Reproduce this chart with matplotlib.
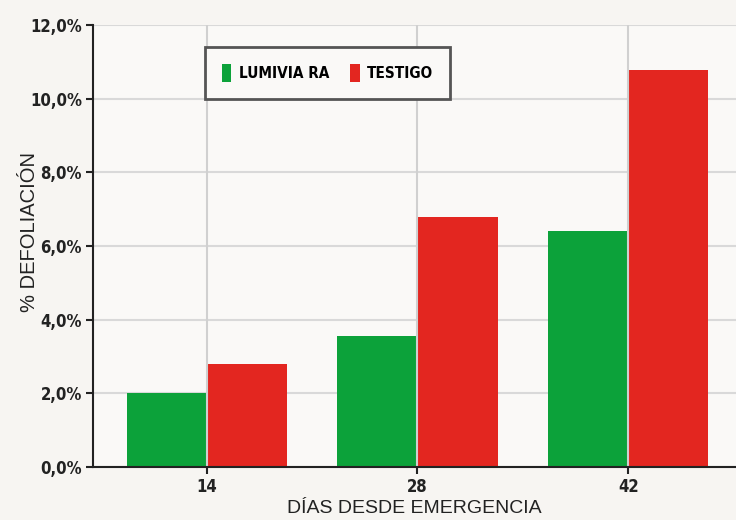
import matplotlib
matplotlib.use("Agg")
import matplotlib.pyplot as plt
import numpy as np

categories = ["14", "28", "42"]
series_names = ["LUMIVIA RA", "TESTIGO"]
lumivia = [2.0, 3.56, 6.41]
testigo = [2.80, 6.79, 10.78]
yticks = [0, 2, 4, 6, 8, 10, 12]
ytick_labels = ["0,0%", "2,0%", "4,0%", "6,0%", "8,0%", "10,0%", "12,0%"]
colors = ["#0ca23a", "#e32620"]

reg = ["Liberation Sans", "DejaVu Sans"]
tick_font = dict(family="DejaVu Sans", weight="bold", stretch="condensed", size=12)
leg_font = dict(family="DejaVu Sans", weight="bold", stretch="condensed", size=11)

fig = plt.figure(figsize=(7.36, 5.2), dpi=100, facecolor="#f7f5f2")
ax = fig.add_axes([93/736, 1-467/520, 1-93/736, (467-25)/520])
ax.set_facecolor("#faf9f7")

x = np.arange(len(categories))
w = 0.38
ax.bar(x - w/2, lumivia, w, color=colors[0], label=series_names[0], zorder=2)
ax.bar(x + w/2, testigo, w, color=colors[1], label=series_names[1], zorder=2)

ax.set_xlim(-114/211, 2 + (736-628)/211)
ax.set_ylim(0, 12)
ax.set_yticks(yticks)
ax.set_yticklabels(ytick_labels, color="#222222", **tick_font)
ax.set_xticks(x)
ax.set_xticklabels(categories, color="#222222", **tick_font)

ax.grid(axis="y", color="#d9d9d9", lw=1.5, zorder=1)
for xi in x:
    ax.axvline(xi, color="#d0d0d0", lw=1.5, zorder=3)

for s in ["top", "right"]:
    ax.spines[s].set_visible(False)
for s in ["left", "bottom"]:
    ax.spines[s].set_color("#222222")
    ax.spines[s].set_linewidth(1.5)
    ax.spines[s].set_zorder(4)
ax.tick_params(axis="both", length=5, width=1.5, color="#222222", pad=3)

ax.set_xlabel("DÍAS DESDE EMERGENCIA", fontfamily=reg, fontsize=14, color="#222222", labelpad=3)
ax.set_ylabel("% DEFOLIACIÓN", fontfamily=reg, fontsize=14.5, color="#222222")
ax.yaxis.set_label_coords(-(93-39)/643, (467-232)/442)

leg = ax.legend(loc="upper left", bbox_to_anchor=(205/736, 1-47/520), bbox_transform=fig.transFigure,
                ncol=2, frameon=True, fancybox=False, borderaxespad=0,
                handlelength=0.6, handleheight=1.5, handletextpad=0.5, columnspacing=1.4,
                borderpad=1.1, prop=leg_font)
leg.get_frame().set_edgecolor("#555555")
leg.get_frame().set_linewidth(2)
leg.get_frame().set_facecolor("#faf9f7")
leg.get_frame().set_alpha(1)
leg.set_zorder(5)

fig.savefig("out.png", dpi=100, facecolor=fig.get_facecolor())
